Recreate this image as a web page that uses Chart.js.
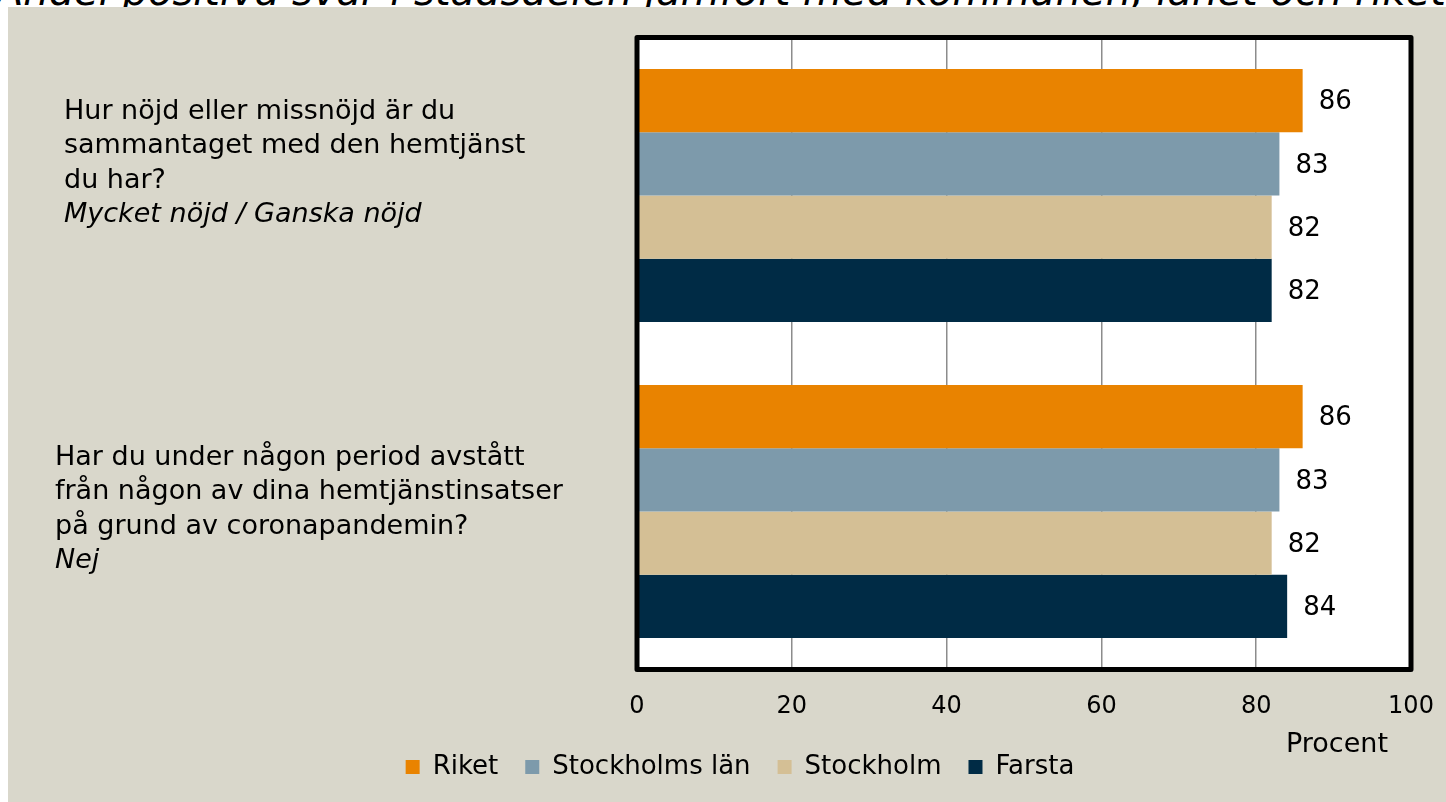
<!DOCTYPE html>
<html>
<head>
<meta charset="utf-8">
<script src="https://cdn.jsdelivr.net/npm/chart.js@4.4.0/dist/chart.umd.min.js"></script>
<style>
  html, body { margin: 0; padding: 0; background: #fff; overflow: hidden; }
  #title {
    position: absolute; left: -4px; top: -32px; white-space: nowrap;
    font: italic 40px "DejaVu Sans", sans-serif; color: #000;
  }
  #panel { position: absolute; left: 8px; top: 7px; right: 0; bottom: 0; background: #d9d7cb; }
  #wrap { position: absolute; left: 0; top: 0; width: 1446px; height: 802px; }
</style>
</head>
<body>
<div id="title">Andel positiva svar i stadsdelen jämfört med kommunen, länet och riket</div>
<div id="panel"></div>
<div id="wrap"><canvas id="chart" width="1446" height="802"></canvas></div>
<script>
const categories = ['Nöjd med hemtjänsten', 'Ej avstått pga corona'];
const questions = [
  ['Hur nöjd eller missnöjd är du', 'sammantaget med den hemtjänst', 'du har?'],
  ['Har du under någon period avstått', 'från någon av dina hemtjänstinsatser', 'på grund av coronapandemin?']
];
const answers = ['Mycket nöjd / Ganska nöjd', 'Nej'];

const seriesNames = ['Riket', 'Stockholms län', 'Stockholm', 'Farsta'];
const riket = [86, 86];
const stockholmsLan = [83, 83];
const stockholm = [82, 82];
const farsta = [82, 84];
const xTicks = [0, 20, 40, 60, 80, 100];

const colors = ['#e98300', '#7d9aab', '#d4bf95', '#002b45'];
const FONT = '"DejaVu Sans", sans-serif';

// where the question text blocks sit (left edge, first line offset from category centre)
const labelX = [64, 55];
const labelDY = [-84, -54];
const LINE = 34.5;

const plotFrame = {
  id: 'plotFrame',
  beforeDraw(chart) {
    const { ctx, chartArea: a } = chart;
    ctx.save();
    ctx.fillStyle = '#fff';
    ctx.fillRect(a.left, a.top, a.right - a.left, a.bottom - a.top);
    ctx.restore();
  },
  afterDatasetsDraw(chart) {
    const { ctx, chartArea: a } = chart;
    ctx.save();
    ctx.strokeStyle = '#000';
    ctx.lineWidth = 5;
    ctx.lineJoin = 'round';
    ctx.strokeRect(a.left, a.top, a.right - a.left, a.bottom - a.top);

    // value labels
    ctx.fillStyle = '#000';
    ctx.font = '26px ' + FONT;
    ctx.textAlign = 'left';
    ctx.textBaseline = 'middle';
    chart.data.datasets.forEach((ds, i) => {
      chart.getDatasetMeta(i).data.forEach((bar, j) => {
        ctx.fillText(String(ds.data[j]), bar.x + 16, bar.y + 2);
      });
    });

    // question texts on the left
    const yScale = chart.scales.y;
    categories.forEach((c, i) => {
      const y0 = yScale.getPixelForValue(i) + labelDY[i];
      ctx.font = '27px ' + FONT;
      questions[i].forEach((line, k) => ctx.fillText(line, labelX[i], y0 + k * LINE));
      ctx.font = 'italic 27px ' + FONT;
      ctx.fillText(answers[i], labelX[i], y0 + questions[i].length * LINE);
    });

    // axis caption
    ctx.font = '27px ' + FONT;
    ctx.textAlign = 'center';
    ctx.fillText('Procent', 1337, 745);
    ctx.restore();
  }
};

new Chart(document.getElementById('chart'), {
  type: 'bar',
  data: {
    labels: categories,
    datasets: [riket, stockholmsLan, stockholm, farsta].map((d, i) => ({
      label: seriesNames[i],
      data: d,
      backgroundColor: colors[i],
      borderWidth: 0,
      categoryPercentage: 0.8,
      barPercentage: 1
    }))
  },
  options: {
    indexAxis: 'y',
    responsive: false,
    animation: false,
    layout: { padding: { top: 37.5, right: 35, bottom: 12, left: 69 } },
    scales: {
      x: {
        min: 0,
        max: 100,
        afterBuildTicks: (s) => { s.ticks = xTicks.map(v => ({ value: v })); },
        afterFit: (s) => { s.height = 57.5; },
        grid: { color: '#8c8c8c', lineWidth: 1.5, drawTicks: true, tickLength: 13, tickColor: 'rgba(0,0,0,0)' },
        border: { display: false },
        ticks: { color: '#000', padding: 10, font: { family: FONT, size: 24 } }
      },
      y: {
        afterFit: (s) => { s.width = 568; },
        grid: { display: false },
        border: { display: false },
        ticks: { display: false }
      }
    },
    plugins: {
      legend: {
        position: 'bottom',
        labels: {
          color: '#000',
          boxWidth: 14,
          boxHeight: 14,
          padding: 27,
          font: { family: FONT, size: 26 }
        }
      },
      tooltip: { enabled: false }
    }
  },
  plugins: [plotFrame]
});
</script>
</body>
</html>
